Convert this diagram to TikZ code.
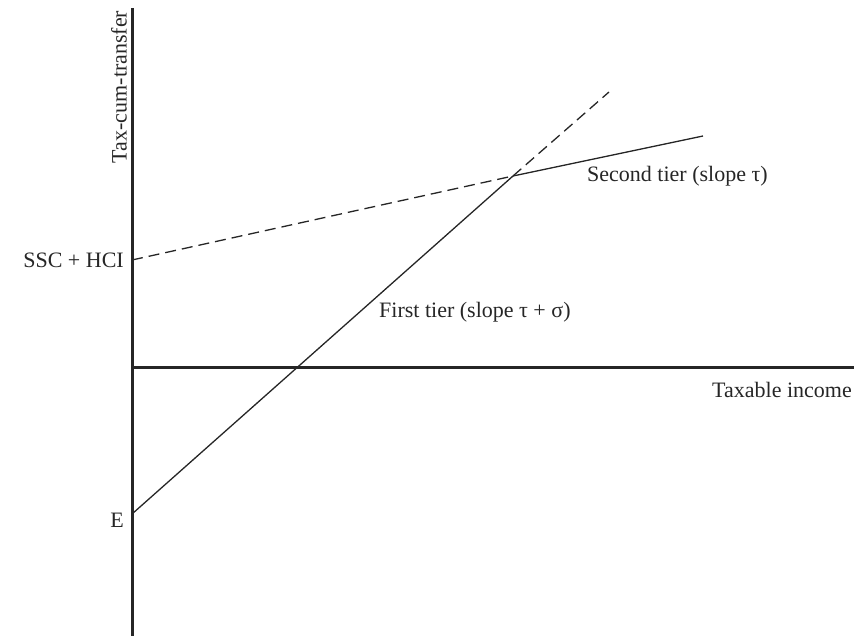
\documentclass[tikz,border=0pt]{standalone}
\usepackage{fontspec}
\setmainfont{Liberation Serif}
\begin{document}
\begin{tikzpicture}[x=1pt,y=-1pt,
  axis/.style={line width=3pt,draw=black!85},
  thin/.style={line width=1.3pt,draw=black!85},
  dashline/.style={line width=1.3pt,draw=black!85,dash pattern=on 11pt off 6pt},
  lbl/.style={font=\fontsize{22}{24}\selectfont,text=black!85,inner sep=0pt}]
\useasboundingbox (0,0) rectangle (854,636);
\coordinate (ytop) at (132,8);
\coordinate (ybot) at (132,636);
\coordinate (o) at (132,367);
\coordinate (xend) at (854,367);
\coordinate (E) at (132,514);
\coordinate (S) at (132,260);
\coordinate (K) at (513,176);
\coordinate (D) at (609,92);
\coordinate (T) at (703,136);
\draw[axis] (ytop) -- (ybot);
\draw[axis] (o) -- (xend);
\draw[thin] (E) -- (K);
\draw[thin] (K) -- (T);
\draw[dashline] (S) -- (K);
\draw[dashline] (K) -- (D);
\node[lbl,rotate=90] (ylab) at (119,87) {Tax-cum-transfer};
\node[lbl,anchor=east] (slab) at (124,260) {SSC + HCI};
\node[lbl,anchor=east] (elab) at (124,520) {E};
\node[lbl,anchor=west] (t2) at (587,176) {Second tier (slope τ)};
\node[lbl,anchor=west] (t1) at (379,312) {First tier (slope τ + σ)};
\node[lbl,anchor=east] (xlab) at (852,390) {Taxable income};
\end{tikzpicture}
\end{document}
